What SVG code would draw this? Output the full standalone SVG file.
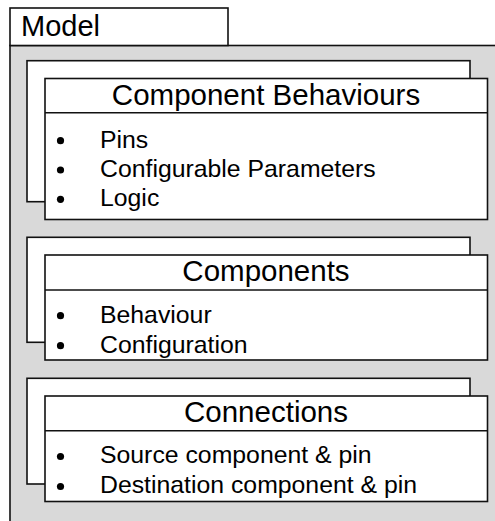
<svg xmlns="http://www.w3.org/2000/svg" width="495" height="521" viewBox="0 0 495 521">
  <style>
    .frame { fill: #ffffff; stroke: #111111; stroke-width: 1.6; }
    .model { fill: #d9d9d9; stroke: #111111; stroke-width: 1.6; }
    .rule { stroke: #111111; stroke-width: 1.6; fill: none; }
    .title { font-family: "Liberation Sans", Arial, sans-serif; font-size: 29px; fill: #000000; }
    .head { font-family: "Liberation Sans", Arial, sans-serif; font-size: 29.5px; fill: #000000; text-anchor: middle; }
    .item { font-family: "Liberation Sans", Arial, sans-serif; font-size: 24.8px; fill: #000000; }
    .dot { fill: #000000; }
  </style>

  <!-- Model package: tab plus grey body running off the page -->
  <g id="model">
    <rect class="model" x="10" y="45.5" width="500" height="490"/>
    <rect class="frame" x="10" y="8" width="218" height="37.5"/>
    <text class="title" x="21" y="36">Model</text>
  </g>

  <!-- Component Behaviours (stacked multi-object) -->
  <g id="component-behaviours">
    <rect class="frame" x="27" y="60.7" width="443" height="141"/>
    <rect class="frame" x="45" y="78.5" width="442.5" height="141"/>
    <line class="rule" x1="45" y1="112.7" x2="487.5" y2="112.7"/>
    <text class="head" x="266" y="104.5">Component Behaviours</text>
    <circle class="dot" cx="60.5" cy="140.7" r="3.6"/>
    <circle class="dot" cx="60.5" cy="170" r="3.6"/>
    <circle class="dot" cx="60.5" cy="199.3" r="3.6"/>
    <text class="item" x="100" y="147.5">Pins</text>
    <text class="item" x="100" y="176.8">Configurable Parameters</text>
    <text class="item" x="100" y="206">Logic</text>
  </g>

  <!-- Components -->
  <g id="components">
    <rect class="frame" x="27" y="237.3" width="443" height="105"/>
    <rect class="frame" x="45" y="255" width="442.5" height="105"/>
    <line class="rule" x1="45" y1="290" x2="487.5" y2="290"/>
    <text class="head" x="266" y="281">Components</text>
    <circle class="dot" cx="60.5" cy="315.7" r="3.6"/>
    <circle class="dot" cx="60.5" cy="345.7" r="3.6"/>
    <text class="item" x="100" y="322.5">Behaviour</text>
    <text class="item" x="100" y="352.5">Configuration</text>
  </g>

  <!-- Connections -->
  <g id="connections">
    <rect class="frame" x="27" y="378.3" width="443" height="105.7"/>
    <rect class="frame" x="45" y="396" width="442.5" height="105.5"/>
    <line class="rule" x1="45" y1="430.7" x2="487.5" y2="430.7"/>
    <text class="head" x="266" y="422">Connections</text>
    <circle class="dot" cx="60.5" cy="456.5" r="3.6"/>
    <circle class="dot" cx="60.5" cy="486.5" r="3.6"/>
    <text class="item" x="100" y="463.3">Source component &amp; pin</text>
    <text class="item" x="100" y="493.3">Destination component &amp; pin</text>
  </g>
</svg>
